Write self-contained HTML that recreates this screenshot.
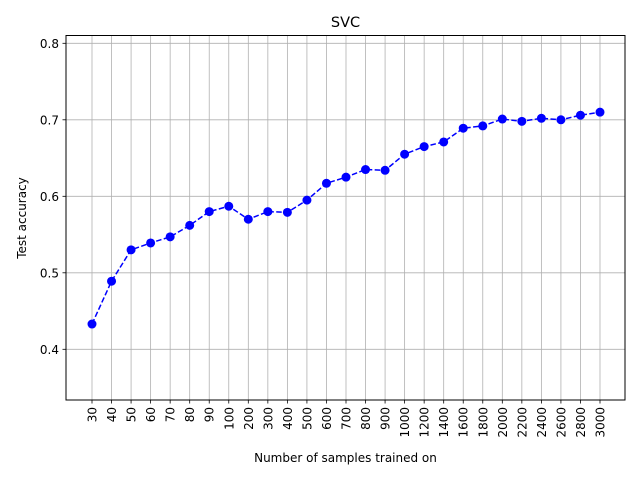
<!DOCTYPE html>
<html><head><meta charset="utf-8"><style>
body{margin:0;background:#fff}
svg{display:block;font-family:"DejaVu Sans","Liberation Sans",sans-serif}
</style></head><body>
<svg id="chart" width="640" height="480" xmlns="http://www.w3.org/2000/svg">
<rect width="640" height="480" fill="#fff"/>
<g id="grid"></g>
<g id="series"></g>
<rect x="66" y="35.5" width="559" height="364.5" fill="none" stroke="#000" stroke-width="1"/>
<g id="xticks"></g>
<g id="yticks"></g>
<text x="345.5" y="27" text-anchor="middle" font-size="14.5">SVC</text>
<text x="345.5" y="462" text-anchor="middle" font-size="12">Number of samples trained on</text>
<text transform="translate(26,218) rotate(-90)" text-anchor="middle" font-size="12">Test accuracy</text>
</svg>
<script>
const categories=["30","40","50","60","70","80","90","100","200","300","400","500","600","700","800","900","1000","1200","1400","1600","1800","2000","2200","2400","2600","2800","3000"];
const accuracy=[0.433,0.489,0.530,0.539,0.547,0.562,0.580,0.587,0.570,0.580,0.579,0.595,0.617,0.625,0.635,0.634,0.655,0.665,0.671,0.689,0.692,0.701,0.698,0.702,0.700,0.706,0.710];
const yTicks=[0.4,0.5,0.6,0.7,0.8];
const NS="http://www.w3.org/2000/svg";
const L=66,R=625,T=35.5,B=400;
function xs(i){return 92+i*(600-92)/(categories.length-1);}
function ys(v){return 349.3-(v-0.4)*765;}
function mk(tag,attrs,parent){const e=document.createElementNS(NS,tag);for(const k in attrs)e.setAttribute(k,attrs[k]);parent.appendChild(e);return e;}
const grid=document.getElementById('grid'),xt=document.getElementById('xticks'),yt=document.getElementById('yticks'),ser=document.getElementById('series');
categories.forEach((c,i)=>{
 const x=xs(i);
 const g=mk('line',{x1:x,x2:x,y1:T,y2:B,stroke:'#b0b0b0','stroke-width':0.8},grid);
 
 
 const t=mk('line',{x1:x,x2:x,y1:B,y2:B+3.5,stroke:'#000','stroke-width':0.8},xt);
 
 
 const lb=mk('text',{transform:`translate(${x+4.5},${B+7}) rotate(-90)`,'text-anchor':'end','font-size':12},xt);
 lb.textContent=c;
 
 
});
yTicks.forEach(v=>{
 const y=ys(v);
 const g=mk('line',{x1:L,x2:R,y1:y,y2:y,stroke:'#b0b0b0','stroke-width':0.8},grid);
 
 
 const t=mk('line',{x1:L-3.5,x2:L,y1:y,y2:y,stroke:'#000','stroke-width':0.8},yt);
 
 
 const lb=mk('text',{x:L-7,y:y+4.5,'text-anchor':'end','font-size':12},yt);
 lb.textContent=v.toFixed(1);
 
 
});
const pts=accuracy.map((v,i)=>xs(i)+','+ys(v)).join(' ');
const pl=mk('polyline',{points:pts,fill:'none',stroke:'#0000ff','stroke-width':1.5,'stroke-dasharray':'5.5,2.4'},ser);


accuracy.forEach((v,i)=>{
 const c=mk('circle',{cx:xs(i),cy:ys(v),r:4.5,fill:'#0000ff'},ser);
 
 
});
</script>
</body></html>
